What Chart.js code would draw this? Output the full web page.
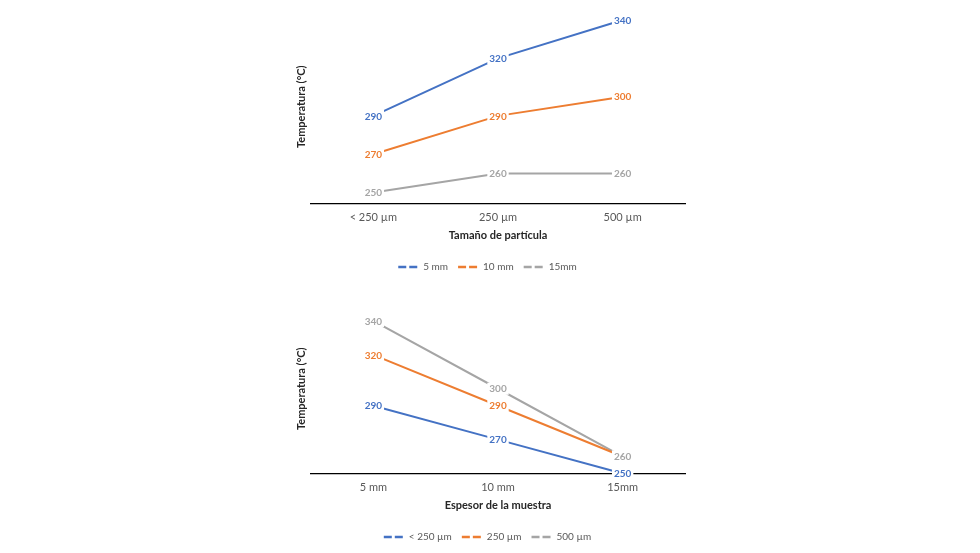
<!DOCTYPE html>
<html>
<head>
<meta charset="utf-8">
<script src="https://cdn.jsdelivr.net/npm/chart.js@4.4.1/dist/chart.umd.min.js"></script>
<style>
  html,body{margin:0;padding:0;background:#fff;}
  body{width:980px;height:553px;position:relative;overflow:hidden;}
  .box{position:absolute;left:0;width:980px;}
  #b1{top:0;height:282px;}
  #b2{top:282px;height:270px;}
</style>
</head>
<body>
<div class="box" id="b1"><canvas id="c1"></canvas></div>
<div class="box" id="b2"><canvas id="c2"></canvas></div>
<script>
// ---- data ----
const particleSizes = ['< 250 µm', '250 µm', '500 µm'];
const thicknesses = ['5 mm', '10 mm', '15mm'];

// chart 1: series by thickness
const temp5mm  = [290, 320, 340];
const temp10mm = [270, 290, 300];
const temp15mm = [250, 260, 260];

// chart 2: series by particle size
const tempLt250 = [290, 270, 250];
const temp250   = [320, 290, 260];
const temp500   = [340, 300, 260];

const yTitle = 'Temperatura (°C)';
const xTitle1 = 'Tamaño de partícula';
const xTitle2 = 'Espesor de la muestra';

const BLUE = '#4472C4', ORANGE = '#ED7D31', GRAY = '#A5A5A5';
const FONT = 'Lato, "Open Sans", sans-serif';

const valueLabels = {
  id: 'valueLabels',
  afterDatasetsDraw(chart) {
    const ctx = chart.ctx;
    ctx.save();
    ctx.font = 'bold 10px ' + FONT;
    ctx.textAlign = 'center';
    ctx.textBaseline = 'middle';
    chart.data.datasets.forEach((ds, i) => {
      const meta = chart.getDatasetMeta(i);
      meta.data.forEach((pt, j) => {
        const txt = String(ds.data[j]);
        const w = ctx.measureText(txt).width;
        ctx.fillStyle = '#fff';
        ctx.fillRect(pt.x - w / 2 - 2, pt.y - 6, w + 4, 12);
        ctx.fillStyle = ds.borderColor;
        ctx.fillText(txt, pt.x, pt.y + 0.5);
      });
    });
    ctx.restore();
  }
};

function ds(label, data, color) {
  return {label, data, borderColor: color, backgroundColor: color, borderWidth: 2,
          pointRadius: 0, pointHoverRadius: 0, tension: 0, clip: false, fill: false};
}

function makeChart(id, labels, datasets, xTitle, yMin, yMax, padTop) {
  return new Chart(document.getElementById(id), {
    type: 'line',
    data: {labels, datasets},
    options: {
      responsive: true,
      maintainAspectRatio: false,
      animation: false,
      events: [],
      layout: {padding: {left: 290, right: 295, top: padTop, bottom: 0}},
      plugins: {
        tooltip: {enabled: false},
        legend: {
          position: 'bottom',
          labels: {
            usePointStyle: true,
            pointStyleWidth: 20,
            padding: 10,
            color: '#595959',
            font: {family: FONT, size: 10},
            generateLabels(chart) {
              return chart.data.datasets.map((d, i) => ({
                text: d.label, fillStyle: d.borderColor, strokeStyle: d.borderColor,
                lineWidth: 2.5, lineDash: [8, 3], pointStyle: 'line', hidden: false,
                datasetIndex: i, fontColor: '#595959'
              }));
            }
          }
        }
      },
      scales: {
        x: {
          offset: true,
          grid: {display: false, drawTicks: false},
          border: {display: true, color: '#000', width: 1.3},
          ticks: {color: '#595959', font: {family: FONT, size: 11}, padding: 7},
          title: {display: true, text: xTitle, color: '#262626',
                  font: {family: FONT, size: 11, weight: 'bold'}, padding: {top: 0, bottom: 9.6}},
          afterFit(scale) { scale.height = 48.5; }
        },
        y: {
          min: yMin, max: yMax,
          grid: {display: false, drawTicks: false},
          border: {display: false},
          ticks: {display: false},
          title: {display: true, text: yTitle, color: '#262626',
                  font: {family: FONT, size: 11, weight: 'bold'}, padding: {top: 5, bottom: 0}},
          afterFit(scale) { scale.width = 21; }
        }
      }
    },
    plugins: [valueLabels]
  });
}

makeChart('c1', particleSizes, [
  ds('5 mm', temp5mm, BLUE),
  ds('10 mm', temp10mm, ORANGE),
  ds('15mm', temp15mm, GRAY)
], xTitle1, 244.3, 345.2, 10);

makeChart('c2', thicknesses, [
  ds('< 250 µm', tempLt250, BLUE),
  ds('250 µm', temp250, ORANGE),
  ds('500 µm', temp500, GRAY)
], xTitle2, 250, 350, 22);
</script>
</body>
</html>
